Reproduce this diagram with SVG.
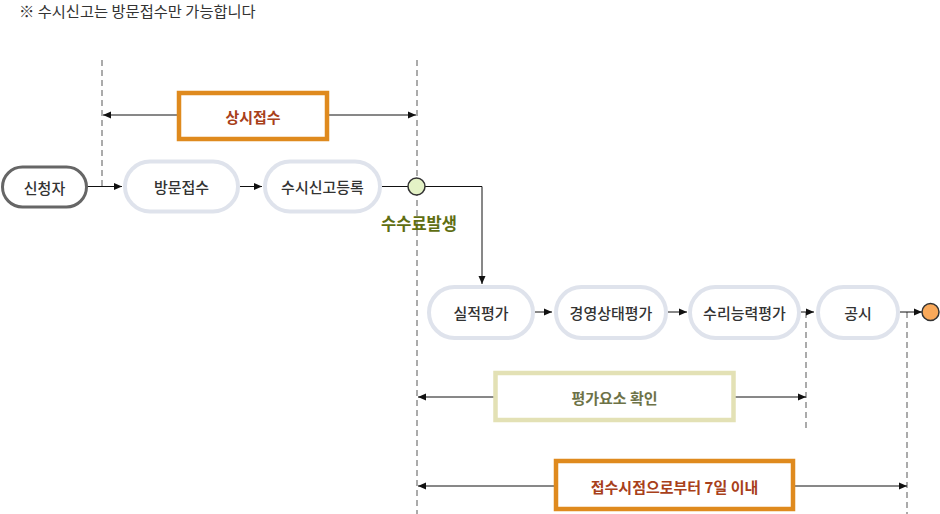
<svg xmlns="http://www.w3.org/2000/svg" width="940" height="514" viewBox="0 0 940 514">
<style>
text{font-family:"Noto Sans CJK KR","Noto Sans",sans-serif;}
.n{fill:#fff;stroke:#dfe3ec;stroke-width:4;}
.t{font-size:15px;font-weight:500;fill:#333;text-anchor:middle;dominant-baseline:central;}
.dash{stroke:#ababab;stroke-width:2;stroke-dasharray:6 4;fill:none;}
.c{stroke:#111;stroke-width:1;fill:none;}
.ob{fill:#fff;stroke:#df8a1e;stroke-width:4.5;}
.ot{font-size:15px;font-weight:700;fill:#a8401a;text-anchor:middle;dominant-baseline:central;}
</style>
<defs>
<marker id="a" viewBox="0 0 8 8" refX="8" refY="4" markerWidth="8" markerHeight="8" markerUnits="userSpaceOnUse" orient="auto-start-reverse">
<path d="M0,0.5 L8,4 L0,7.5 Z" fill="#111"/>
</marker>
</defs>
<rect width="940" height="514" fill="#fff"/>
<text x="19" y="10" font-size="15.3" fill="#333" dominant-baseline="central">※ 수시신고는 방문접수만 가능합니다</text>
<g id="guides">
<line class="dash" x1="102" y1="60" x2="102" y2="187"/>
<line class="dash" x1="417" y1="60" x2="417" y2="514"/>
<line class="dash" x1="806" y1="312" x2="806" y2="428"/>
<line class="dash" x1="907" y1="312" x2="907" y2="514"/>
</g>
<g id="connectors">
<line class="c" x1="87" y1="186.5" x2="122" y2="186.5" marker-end="url(#a)"/>
<line class="c" x1="240" y1="186.5" x2="262" y2="186.5" marker-end="url(#a)"/>
<line class="c" x1="382" y1="186.5" x2="408" y2="186.5"/>
<polyline class="c" points="425,186.5 482,186.5 482,284" marker-end="url(#a)"/>
<line class="c" x1="535" y1="312" x2="552" y2="312" marker-end="url(#a)"/>
<line class="c" x1="668" y1="312" x2="687" y2="312" marker-end="url(#a)"/>
<line class="c" x1="801" y1="312" x2="814" y2="312" marker-end="url(#a)"/>
<line class="c" x1="900" y1="312" x2="922" y2="312" marker-end="url(#a)"/>
<line class="c" x1="103" y1="115" x2="416" y2="115" marker-start="url(#a)" marker-end="url(#a)"/>
<line class="c" x1="418" y1="397" x2="806" y2="397" marker-start="url(#a)" marker-end="url(#a)"/>
<line class="c" x1="418" y1="486" x2="907" y2="486" marker-start="url(#a)" marker-end="url(#a)"/>
</g>
<g id="sangsi">
<rect class="ob" x="179" y="93" width="148" height="46"/>
<text class="ot" x="253" y="116">상시접수</text>
</g>
<g id="applicant">
<rect x="2.5" y="167" width="84" height="40" rx="20" fill="#fff" stroke="#666" stroke-width="3"/>
<text class="t" x="44.5" y="187">신청자</text>
</g>
<g id="visit">
<rect class="n" x="125" y="161.5" width="113" height="50" rx="25"/>
<text class="t" x="181.5" y="186.5">방문접수</text>
</g>
<g id="register">
<rect class="n" x="265" y="161.5" width="115" height="50" rx="25"/>
<text class="t" x="322.5" y="186.5">수시신고등록</text>
</g>
<g id="fee">
<circle cx="416.5" cy="186.5" r="8.5" fill="#e4f2c6" stroke="#333" stroke-width="1.5"/>
<text x="419" y="222.5" font-size="16.5" font-weight="700" fill="#5f6e12" text-anchor="middle" dominant-baseline="central">수수료발생</text>
</g>
<g id="perf">
<rect class="n" x="429" y="287" width="104" height="51" rx="25.5"/>
<text class="t" x="481" y="312.5">실적평가</text>
</g>
<g id="mgmt">
<rect class="n" x="556" y="287" width="110" height="51" rx="25.5"/>
<text class="t" x="611" y="312.5">경영상태평가</text>
</g>
<g id="repair">
<rect class="n" x="690" y="287" width="109" height="51" rx="25.5"/>
<text class="t" x="744.5" y="312.5">수리능력평가</text>
</g>
<g id="notice">
<rect class="n" x="818" y="287" width="80" height="51" rx="25.5"/>
<text class="t" x="858" y="312.5">공시</text>
</g>
<g id="end">
<circle cx="930.5" cy="312" r="8.5" fill="#f9a95a" stroke="#333" stroke-width="1.5"/>
</g>
<g id="eval">
<rect x="495.5" y="373" width="238" height="47" fill="#fff" stroke="#e3e1b5" stroke-width="4.5"/>
<text x="614.5" y="397" font-size="15" font-weight="700" fill="#6d7247" text-anchor="middle" dominant-baseline="central">평가요소 확인</text>
</g>
<g id="within7">
<rect class="ob" x="556" y="461" width="237" height="48"/>
<text class="ot" x="674.5" y="486">접수시점으로부터 7일 이내</text>
</g>
</svg>
